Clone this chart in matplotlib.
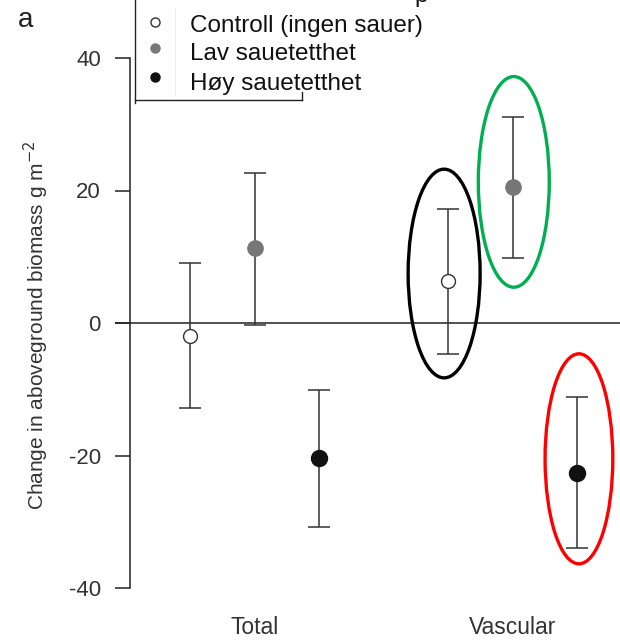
import matplotlib
matplotlib.use("Agg")
import matplotlib.pyplot as plt
from matplotlib.patches import Ellipse
from matplotlib.lines import Line2D

plt.rcParams['font.family'] = ['Liberation Sans', 'DejaVu Sans']

# Data
groups = ["Total", "Vascular"]
series = ["Controll (ingen sauer)", "Lav sauetetthet", "Høy sauetetthet"]
x_pos = [[1, 2, 3], [5, 6, 7]]
means = [[-1.9, 11.3, -20.4], [6.3, 20.5, -22.6]]
upper = [[9.1, 22.6, -10.1], [17.2, 31.1, -11.2]]
lower = [[-12.8, -0.3, -30.8], [-4.7, 9.8, -34.0]]
group_centers = [2, 6]
yticks = [-40, -20, 0, 20, 40]

W, H = 620, 641
fig = plt.figure(figsize=(W / 100, H / 100), dpi=100)

# axes mapping: x data 1 -> px 190, 64.5 px/unit; y data 0 -> px 323, 6.625 px/unit
ax_left_px, ax_right_px = 115, 620
xscale = 64.5
yscale = 6.625
ax = fig.add_axes([ax_left_px / W, 0, (ax_right_px - ax_left_px) / W, 1])
xmin = 1 - (190 - ax_left_px) / xscale
ax.set_xlim(xmin, 1 + (ax_right_px - 190) / xscale)
ax.set_ylim(-(H - 323) / yscale, 323 / yscale)

def px2x(px):
    return xmin + (px - ax_left_px) / xscale

for s in ["top", "right", "bottom"]:
    ax.spines[s].set_visible(False)
ax.spines['left'].set_position(('data', px2x(130)))
ax.spines['left'].set_bounds(-40, 40)
ax.spines['left'].set_color('#222222')
ax.spines['left'].set_linewidth(1.1)
ax.set_yticks(yticks)
ax.set_yticklabels([str(t) for t in yticks], fontsize=16, color='#333333')
ax.tick_params(axis='y', length=11, width=1.1, color='#222222', pad=10)
ax.set_xticks([])
ax.patch.set_alpha(0)

# zero line
ax.axhline(0, color='#333333', lw=1.2, zorder=1)

face = ['white', '#777777', '#111111']
edge = ['#333333', '#777777', '#111111']
msize = [10, 11, 11.5]
for g in range(2):
    for i in range(3):
        x = x_pos[g][i]
        m = means[g][i]
        ax.errorbar([x], [m], yerr=[[m - lower[g][i]], [upper[g][i] - m]],
                    fmt='none', ecolor='#333333', elinewidth=1.1, capsize=8,
                    capthick=1.1, zorder=2)
        ax.plot([x], [m], marker='o', ms=msize[i], mfc=face[i], mec=edge[i],
                mew=1.0, ls='none', zorder=3)

for gc, name in zip(group_centers, groups):
    ax.text(gc, -(628 - 323) / yscale, name, ha='center', va='center',
            fontsize=16.5, color='#333333')

ax.text(px2x(36), -0.3, "Change in aboveground biomass g m$^{-2}$", rotation=90,
        ha='center', va='center', fontsize=15, color='#333333')

# highlight ellipses (annotation)
ells = [((4.94, 7.47), 1.116, 31.5, 'black'),
        ((6.02, 21.3), 1.10, 31.8, '#00B050'),
        ((7.03, -20.5), 1.05, 31.7, '#FF0000')]
for c, w, h, col in ells:
    ax.add_patch(Ellipse(c, w, h, fill=False, ec=col, lw=2.4, zorder=4))

# panel label
fig.text(26 / W, 1 - 20 / H, "a", fontsize=20, ha='center', va='center', color='#222222')

# partial legend box
def fl(xs, ys, **kw):
    fig.add_artist(Line2D([x / W for x in xs], [1 - y / H for y in ys],
                          transform=fig.transFigure, **kw))

fl([135, 135], [0, 103], color='#222222', lw=1.0)
fl([135, 302], [100, 100], color='#222222', lw=1.0)
fl([302, 302], [92, 100], color='#222222', lw=1.0)
fl([175, 175], [8, 96], color='#eeeeee', lw=0.8)

leg_y = [22, 48, 77]
leg_txt_y = [26, 54, 84]
for i in range(3):
    fig.add_artist(Line2D([155 / W], [1 - leg_y[i] / H], marker='o', ms=6.5,
                          mfc=face[i], mec=edge[i], mew=1.0, ls='none',
                          transform=fig.transFigure))
    fig.text(190 / W, 1 - leg_txt_y[i] / H, series[i], fontsize=17.5,
             ha='left', va='center', color='#111111')
fig.text(414 / W, 1 - 2 / H, "p", fontsize=17.5, ha='left', va='baseline', color='#111111')

fig.savefig("out.png", dpi=100)
